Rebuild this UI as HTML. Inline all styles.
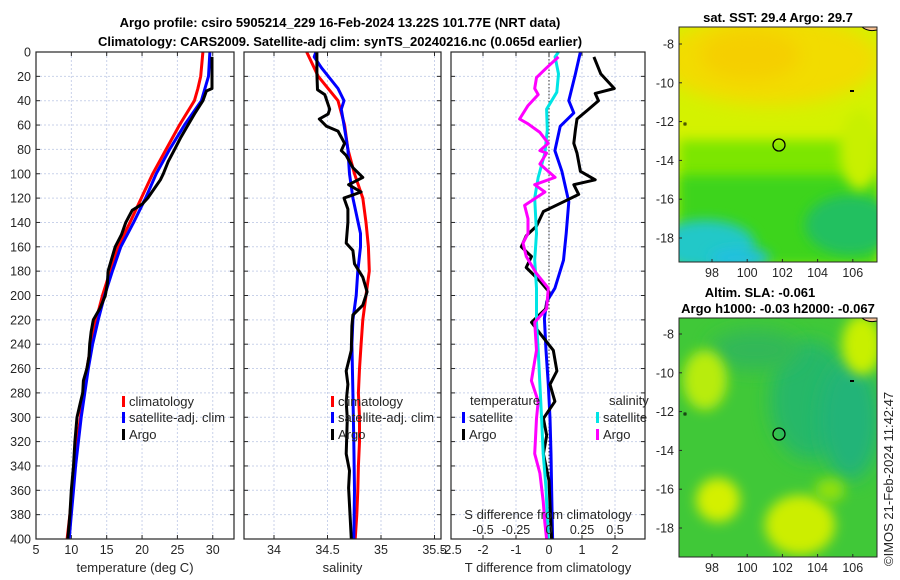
<!DOCTYPE html>
<html><head><meta charset="utf-8"><style>
html,body{margin:0;padding:0;background:#fff;}
svg{display:block;font-family:"Liberation Sans",sans-serif;}
</style></head><body>
<svg id="fig" width="900" height="580" viewBox="0 0 900 580">
<defs>
<filter id="blur1" x="-50%" y="-50%" width="200%" height="200%"><feGaussianBlur stdDeviation="9"/></filter>
<filter id="blur2" x="-50%" y="-50%" width="200%" height="200%"><feGaussianBlur stdDeviation="6"/></filter>
<clipPath id="clipTop"><rect x="679" y="27" width="198" height="235"/></clipPath>
<clipPath id="clipBot"><rect x="679" y="318" width="198" height="239"/></clipPath>
</defs>
<text x="340" y="27" text-anchor="middle" font-size="13" font-weight="bold" fill="#000">Argo profile: csiro 5905214_229 16-Feb-2024 13.22S 101.77E (NRT data)</text>
<text x="340" y="46" text-anchor="middle" font-size="13" font-weight="bold" fill="#000">Climatology: CARS2009. Satellite-adj clim: synTS_20240216.nc (0.065d earlier)</text>

<g clip-path="url(#clipTop)">
<rect x="679" y="27" width="198" height="235" fill="#d4f200"/>
<ellipse cx="770" cy="60" rx="110" ry="45" fill="#f2dc00" filter="url(#blur1)"/>
<ellipse cx="750" cy="55" rx="50" ry="25" fill="#f5cf00" filter="url(#blur1)"/>
<rect x="679" y="140" width="198" height="122" fill="#7ce600" filter="url(#blur2)"/>
<rect x="679" y="175" width="198" height="90" fill="#3ed41c" filter="url(#blur2)"/>
<ellipse cx="850" cy="225" rx="45" ry="30" fill="#20c060" filter="url(#blur2)"/>
<ellipse cx="705" cy="245" rx="50" ry="25" fill="#20c8c8" filter="url(#blur2)"/>
<ellipse cx="740" cy="258" rx="30" ry="10" fill="#20c0e0" filter="url(#blur2)"/>
<ellipse cx="860" cy="150" rx="20" ry="40" fill="#c8f000" filter="url(#blur2)"/>
<path d="M862 27 Q868 32 877 30 L877 27 Z" fill="#f5c090" stroke="#000" stroke-width="1"/>
<rect x="850" y="90" width="4" height="2" fill="#000"/>
<rect x="684" y="123" width="2" height="2" fill="none" stroke="#000" stroke-width="0.8"/>
</g>
<rect x="679" y="27" width="198" height="235" fill="none" stroke="#262626" stroke-width="1"/>
<circle cx="779" cy="145" r="6" fill="none" stroke="#000" stroke-width="1.3"/>
<text x="778" y="22" text-anchor="middle" font-size="13" font-weight="bold">sat. SST: 29.4 Argo: 29.7</text>

<g clip-path="url(#clipBot)">
<rect x="679" y="318" width="198" height="239" fill="#40c838"/>
<ellipse cx="810" cy="400" rx="40" ry="60" fill="#28b868" filter="url(#blur1)"/>
<ellipse cx="850" cy="420" rx="30" ry="60" fill="#20b478" filter="url(#blur1)"/>
<ellipse cx="755" cy="350" rx="45" ry="20" fill="#30b858" filter="url(#blur1)"/>
<ellipse cx="705" cy="380" rx="22" ry="30" fill="#b8ec10" filter="url(#blur2)"/>
<ellipse cx="862" cy="345" rx="20" ry="30" fill="#c8f000" filter="url(#blur2)"/>
<ellipse cx="718" cy="500" rx="22" ry="22" fill="#d4f000" filter="url(#blur2)"/>
<ellipse cx="800" cy="525" rx="35" ry="30" fill="#ccee00" filter="url(#blur2)"/>
<ellipse cx="830" cy="490" rx="15" ry="12" fill="#90e010" filter="url(#blur2)"/>
<path d="M862 318 Q868 323 877 321 L877 318 Z" fill="#f5c090" stroke="#000" stroke-width="1"/>
<rect x="850" y="380" width="4" height="2" fill="#000"/>
<rect x="684" y="413" width="2" height="2" fill="none" stroke="#000" stroke-width="0.8"/>
</g>
<rect x="679" y="318" width="198" height="239" fill="none" stroke="#262626" stroke-width="1"/>
<circle cx="779" cy="434" r="6" fill="none" stroke="#000" stroke-width="1.3"/>
<text x="760" y="297" text-anchor="middle" font-size="13" font-weight="bold">Altim. SLA: -0.061</text>
<text x="778" y="313" text-anchor="middle" font-size="13" font-weight="bold">Argo h1000: -0.03 h2000: -0.067</text>
<text transform="translate(893,566) rotate(-90)" font-size="13" fill="#262626">©IMOS 21-Feb-2024 11:42:47</text>
</svg>
<script>
const depthTicks=[0,20,40,60,80,100,120,140,160,180,200,220,240,260,280,300,320,340,360,380,400];
const tTicks=[5,10,15,20,25,30];
const sTicks=[34,34.5,35,35.5];
const dtTicks=[-2,-1,0,1,2];
const dsTickLabels=["-0.5","-0.25","0","0.25","0.5"];
const dsTickVals=[-0.5,-0.25,0,0.25,0.5];
const tClimD=[0,20,30,40,60,80,100,120,140,160,180,200,220,240,260,280,300,320,340,360,380,400];
const tClim=[28.6,28.3,27.9,27.4,25.3,23.4,21.5,19.9,18.3,16.6,15.5,14.4,13.5,12.8,12.2,11.7,11.3,10.8,10.4,10.1,9.8,9.4];
const tSatD=[0,20,40,60,80,100,120,140,160,180,200,220,240,260,280,300,320,340,360,380,400];
const tSat=[29.6,29.4,28.4,26.0,23.9,22.0,20.5,18.8,17.0,15.8,14.7,13.8,13.0,12.4,11.9,11.4,11.0,10.6,10.3,10.0,9.7];
const tArgoD=[4,10,30,32,40,50,60,70,80,90,100,105,110,120,125,130,140,150,160,170,180,190,200,210,220,230,240,250,260,270,280,290,300,320,340,360,380,400];
const tArgo=[29.9,29.9,29.9,29.1,28.6,27.5,26.5,25.5,24.6,23.7,23.0,22.6,22.0,20.8,20.0,18.6,17.7,17.1,16.2,15.7,15.2,15.1,14.8,14.1,13.1,12.8,12.6,12.5,12.2,11.7,11.6,11.2,10.8,10.5,10.3,10.0,9.8,9.5];
const sClimD=[0,20,40,60,80,100,120,140,160,180,200,220,240,260,280,300,320,340,360,380,400];
const sClim=[34.306,34.413,34.598,34.660,34.691,34.752,34.830,34.860,34.882,34.891,34.860,34.830,34.814,34.799,34.789,34.799,34.799,34.789,34.783,34.774,34.759];
const sSatD=[0,4,13,30,40,47,60,80,100,120,149,160,180,200,220,240,280,320,360,400];
const sSat=[34.392,34.376,34.444,34.598,34.654,34.629,34.654,34.691,34.706,34.737,34.808,34.808,34.783,34.768,34.737,34.728,34.737,34.746,34.752,34.746];
const sArgoD=[0,18,31,35,47,51,55,61,65,75,81,85,95,103,109,115,120,129,140,157,163,174,185,197,208,216,225,245,262,273,287,301,330,344,358,372,400];
const sArgo=[34.401,34.401,34.407,34.475,34.521,34.506,34.423,34.491,34.598,34.660,34.629,34.675,34.737,34.830,34.697,34.814,34.654,34.691,34.691,34.675,34.737,34.752,34.830,34.870,34.830,34.737,34.728,34.722,34.675,34.691,34.675,34.685,34.675,34.706,34.697,34.706,34.722];
const dtArgoD=[4,18,30,34,40,48,55,64,75,83,98,105,109,117,123,131,143,151,160,168,177,188,197,211,222,231,245,262,273,287,301,315,330,352,372,400];
const dtArgo=[1.36,1.57,1.98,1.4,1.5,1.16,0.85,0.8,0.75,0.85,0.95,1.4,0.75,0.9,0.44,-0.17,-0.38,-0.69,-0.84,-0.53,-0.69,-0.28,0,-0.1,-0.53,-0.28,0.13,0.24,0.03,0.18,-0.17,-0.07,-0.17,0,0.03,0.08];
const dtSatD=[0,18,40,50,61,81,98,123,149,171,194,205,219,245,273,301,330,358,400];
const dtSat=[0.95,0.8,0.6,0.75,0.34,0.18,0.39,0.6,0.52,0.44,0.18,-0.07,-0.14,-0.09,-0.02,0.03,0.06,0.08,0.11];
const dsSatD=[0,4,18,33,47,64,83,103,120,149,171,194,222,245,273,301,330,358,400];
const dsSat=[0.072,0.046,0.072,0.059,-0.018,-0.013,-0.031,-0.082,-0.108,-0.095,-0.108,-0.095,-0.095,-0.082,-0.069,-0.056,-0.044,-0.023,-0.005];
const dsArgoD=[4,13,21,30,35,44,55,59,66,75,81,83,92,103,109,115,126,137,149,157,168,182,194,211,222,245,270,287,301,330,346,369,387,400];
const dsArgo=[0.072,-0.018,-0.095,-0.108,-0.082,-0.159,-0.223,-0.159,-0.069,-0.005,-0.069,-0.018,-0.069,0.046,-0.108,-0.031,-0.185,-0.159,-0.159,-0.197,-0.172,-0.095,-0.005,-0.018,-0.108,-0.095,-0.133,-0.082,-0.095,-0.108,-0.069,-0.044,-0.031,-0.018];
const latTicks=[-8,-10,-12,-14,-16,-18];
const lonTicks=[98,100,102,104,106];

const Y0=52,Y1=539;
const yD=d=>Y0+d*(Y1-Y0)/400;
const xT=t=>36+(t-5)*7.07;
const xS=s=>274+(s-34)*107;
const xDT=v=>549+v*33;
const xDS=v=>549+v*132;
const latTop=l=>44+(-8-l)*19.4;
const latBot=l=>334+(-8-l)*19.4;
const lonX=l=>712+(l-98)*17.6;

const svg=document.getElementById('fig');
const NS='http://www.w3.org/2000/svg';
function mk(tag,attrs,parent){const e=document.createElementNS(NS,tag);for(const k in attrs)e.setAttribute(k,attrs[k]);(parent||svg).appendChild(e);return e;}

const panels=[
 {x0:36,x1:234,name:'temperature-panel',grid:tTicks.map(xT),labels:tTicks.map(String),lx:tTicks.map(xT),title:'temperature (deg C)'},
 {x0:244,x1:441,name:'salinity-panel',grid:sTicks.map(xS),labels:sTicks.map(String),lx:sTicks.map(xS),title:'salinity'},
 {x0:451,x1:645,name:'difference-panel',grid:dtTicks.map(xDT),labels:["-2.5"].concat(dtTicks.map(String)),lx:[451].concat(dtTicks.map(xDT)),title:'T difference from climatology'}
];
panels.forEach((p,pi)=>{
 const g=mk('g',{});
 
 
 depthTicks.forEach(d=>{
  if(d===0||d===400)return;
  const l=mk('line',{x1:p.x0,x2:p.x1,y1:yD(d),y2:yD(d),stroke:'#c9d2ea','stroke-width':1,'stroke-dasharray':'2,2'},g);
  
  
  mk('line',{x1:p.x0,x2:p.x0+4,y1:yD(d),y2:yD(d),stroke:'#262626'},g);
  mk('line',{x1:p.x1-4,x2:p.x1,y1:yD(d),y2:yD(d),stroke:'#262626'},g);
 });
 p.grid.forEach(x=>{
  if(x<=p.x0+1||x>=p.x1-1)return;
  const l=mk('line',{x1:x,x2:x,y1:Y0,y2:Y1,stroke:'#c9d2ea','stroke-width':1,'stroke-dasharray':'2,2'},g);
  
  
  mk('line',{x1:x,x2:x,y1:Y1-4,y2:Y1,stroke:'#262626'},g);
  mk('line',{x1:x,x2:x,y1:Y0,y2:Y0+4,stroke:'#262626'},g);
 });
 p.labels.forEach((t,i)=>{
  const e=mk('text',{x:p.lx[i],y:554,'text-anchor':'middle','font-size':12.5,fill:'#262626'},g);
  e.textContent=t;
  
  
 });
 const at=mk('text',{x:(p.x0+p.x1)/2,y:572,'text-anchor':'middle','font-size':13,fill:'#262626'},g);
 at.textContent=p.title;
 
 
});
depthTicks.forEach(d=>{
 const e=mk('text',{x:31,y:yD(d)+4.5,'text-anchor':'end','font-size':12.5,fill:'#262626'});
 e.textContent=String(d);
 
 
});
const zl=mk('line',{x1:xDT(0),x2:xDT(0),y1:Y0,y2:Y1,stroke:'#333','stroke-width':1,'stroke-dasharray':'1.5,2'});



function series(xs,ds,sx,color,name){
 const pts=xs.map((v,i)=>sx(v).toFixed(1)+','+yD(ds[i]).toFixed(1)).join(' ');
 const pl=mk('polyline',{points:pts,fill:'none',stroke:color,'stroke-width':3,'stroke-linejoin':'round'});
 
 
}
series(tClim,tClimD,xT,'#ff0000','temperature-climatology-line');
series(tSat,tSatD,xT,'#0000ff','temperature-satellite-line');
series(tArgo,tArgoD,xT,'#000000','temperature-argo-line');
series(sClim,sClimD,xS,'#ff0000','salinity-climatology-line');
series(sSat,sSatD,xS,'#0000ff','salinity-satellite-line');
series(sArgo,sArgoD,xS,'#000000','salinity-argo-line');
series(dtSat,dtSatD,xDT,'#0000ff','t-diff-satellite-line');
series(dtArgo,dtArgoD,xDT,'#000000','t-diff-argo-line');
series(dsSat,dsSatD,xDS,'#00e5e5','s-diff-satellite-line');
series(dsArgo,dsArgoD,xDS,'#ff00ff','s-diff-argo-line');

panels.forEach(p=>{
 const r=mk('rect',{x:p.x0,y:Y0,width:p.x1-p.x0,height:Y1-Y0,fill:'none',stroke:'#262626','stroke-width':1.2});
 
 
});
const sdt=mk('text',{x:548,y:519,'text-anchor':'middle','font-size':13,fill:'#262626'});
sdt.textContent='S difference from climatology';


dsTickVals.forEach((v,i)=>{
 const e=mk('text',{x:xDS(v),y:534,'text-anchor':'middle','font-size':12.5,fill:'#262626'});
 e.textContent=dsTickLabels[i];
 
 
});

function legendEntry(x,y,color,label){
 const g=mk('g',{});
 
 
 mk('rect',{x:x,y:y-9,width:3,height:11,fill:color},g);
 const t=mk('text',{x:x+7,y:y+1,'font-size':13,fill:'#262626'},g);
 t.textContent=label;
}
legendEntry(122,405,'#ff0000','climatology');
legendEntry(122,421,'#0000ff','satellite-adj. clim');
legendEntry(122,438,'#000000','Argo');
legendEntry(331,405,'#ff0000','climatology');
legendEntry(331,421,'#0000ff','satellite-adj. clim');
legendEntry(331,438,'#000000','Argo');
const lt1=mk('text',{x:470,y:405,'font-size':13,fill:'#262626'});lt1.textContent='temperature';


const lt2=mk('text',{x:609,y:405,'font-size':13,fill:'#262626'});lt2.textContent='salinity';


legendEntry(462,421,'#0000ff','satellite');
legendEntry(462,438,'#000000','Argo');
legendEntry(596,421,'#00e5e5','satellite');
legendEntry(596,438,'#ff00ff','Argo');

[[latTop,27,262],[latBot,318,557]].forEach(([f,top,bot])=>{
 latTicks.forEach(l=>{
  const e=mk('text',{x:674,y:f(l)+4.5,'text-anchor':'end','font-size':12.5,fill:'#262626'});
  e.textContent=String(l);
  
  
  mk('line',{x1:679,x2:682,y1:f(l),y2:f(l),stroke:'#262626'});
 });
 lonTicks.forEach(l=>{
  const e=mk('text',{x:lonX(l),y:bot+15,'text-anchor':'middle','font-size':12.5,fill:'#262626'});
  e.textContent=String(l);
  
  
  mk('line',{x1:lonX(l),x2:lonX(l),y1:bot-3,y2:bot,stroke:'#262626'});
 });
});
</script>
</body></html>
